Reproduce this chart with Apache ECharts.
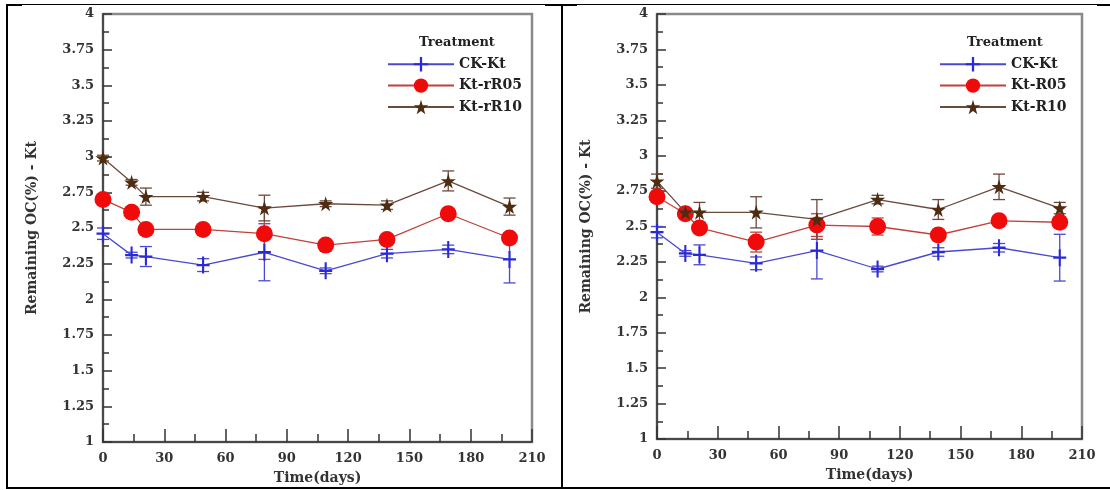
<!DOCTYPE html>
<html>
<head>
<meta charset="utf-8">
<script src="https://cdn.jsdelivr.net/npm/echarts@6/dist/echarts.min.js"></script>
<style>
  html, body { margin: 0; padding: 0; background: #fff; }
  #main { width: 1110px; height: 490px; }
</style>
</head>
<body>
<div id="main"></div>
<script>
// sampling days (same for both panels)
var days = [0, 14, 21, 49, 79, 109, 139, 169, 199];

// left panel
var ckKt = [2.46, 2.31, 2.30, 2.24, 2.33, 2.20, 2.32, 2.35, 2.28];
var ckKtErr = [0.04, 0.02, 0.07, 0.045, 0.2, 0.02, 0.03, 0.03, 0.165];
var ktrR05 = [2.70, 2.61, 2.49, 2.49, 2.46, 2.38, 2.42, 2.60, 2.43];
var ktrR05Err = [0.02, 0.02, 0.02, 0.02, 0.18, 0.02, 0.02, 0.03, 0.02];
var ktrR10 = [2.99, 2.82, 2.72, 2.72, 2.64, 2.67, 2.66, 2.83, 2.65];
var ktrR10Err = [0.02, 0.02, 0.06, 0.03, 0.09, 0.02, 0.03, 0.07, 0.06];

// right panel
var ktR05 = [2.71, 2.59, 2.49, 2.39, 2.51, 2.50, 2.44, 2.54, 2.53];
var ktR05Err = [0.02, 0.02, 0.03, 0.07, 0.08, 0.06, 0.04, 0.03, 0.03];
var ktR10 = [2.82, 2.60, 2.60, 2.60, 2.55, 2.69, 2.62, 2.78, 2.63];
var ktR10Err = [0.05, 0.02, 0.07, 0.11, 0.14, 0.03, 0.07, 0.09, 0.04];

var xTicks = [0, 210, 30];      // min, max, interval
var yTicks = [1, 4, 0.25];

var plusPath = 'path://M4.2,0 L5.8,0 L5.8,5.2 L10,5.2 L10,6.8 L5.8,6.8 L5.8,12 L4.2,12 L4.2,6.8 L0,6.8 L0,5.2 L4.2,5.2 Z';
var starPath = 'path://M50,0 L61,35 L98,35 L68,57 L79,91 L50,70 L21,91 L32,57 L2,35 L39,35 Z';

var fontFam = '"DejaVu Serif", "Liberation Serif", serif';

var styles = [
  { color: '#2a2ad8', line: '#4a4ad0', symbol: plusPath, size: [13, 17] },
  { color: '#f00a0a', line: '#c2413a', symbol: 'circle', size: 17 },
  { color: '#4e2c12', line: '#6a4a3c', symbol: starPath, size: 15 }
];

function pairs(xs, ys) {
  var out = [];
  for (var i = 0; i < xs.length; i++) out.push([xs[i], ys[i]]);
  return out;
}
function errs(xs, ys, es) {
  var out = [];
  for (var i = 0; i < xs.length; i++) out.push([xs[i], ys[i] - es[i], ys[i] + es[i]]);
  return out;
}

function errorRender(color) {
  return function (params, api) {
    var lo = api.coord([api.value(0), api.value(1)]);
    var hi = api.coord([api.value(0), api.value(2)]);
    var w = 6;
    var st = { stroke: color, lineWidth: 1.3 };
    return {
      type: 'group',
      children: [
        { type: 'line', shape: { x1: lo[0], y1: lo[1], x2: hi[0], y2: hi[1] }, style: st },
        { type: 'line', shape: { x1: lo[0] - w, y1: lo[1], x2: lo[0] + w, y2: lo[1] }, style: st },
        { type: 'line', shape: { x1: hi[0] - w, y1: hi[1], x2: hi[0] + w, y2: hi[1] }, style: st }
      ]
    };
  };
}

function makeAxes(idx) {
  var labelStyle = { fontFamily: fontFam, fontWeight: 'bold', fontSize: 13, color: '#333' };
  var nameStyle = { fontFamily: fontFam, fontWeight: 'bold', fontSize: 14, color: '#333' };
  var x = {
    type: 'value', gridIndex: idx, min: xTicks[0], max: xTicks[1], interval: xTicks[2],
    name: 'Time(days)', nameLocation: 'middle', nameGap: 29, nameTextStyle: nameStyle,
    axisLine: { lineStyle: { color: '#333', width: 1.5 } },
    axisTick: { inside: true, length: 13, lineStyle: { color: '#333', width: 1.5 } },
    minorTick: { show: true, splitNumber: 2, length: 8, lineStyle: { color: '#333', width: 1.5 } },
    axisLabel: Object.assign({ margin: 10 }, labelStyle),
    splitLine: { show: false }
  };
  var y = {
    type: 'value', gridIndex: idx, min: yTicks[0], max: yTicks[1], interval: yTicks[2],
    name: 'Remaining OC(%) - Kt', nameLocation: 'middle', nameGap: 64, nameTextStyle: nameStyle,
    axisLine: { lineStyle: { color: '#333', width: 1.5 } },
    axisTick: { inside: true, length: 9, lineStyle: { color: '#333', width: 1.5 } },
    minorTick: { show: true, splitNumber: 2, length: 6, lineStyle: { color: '#333', width: 1.5 } },
    axisLabel: Object.assign({ margin: 9 }, labelStyle),
    splitLine: { show: false }
  };
  return [x, y];
}

function makeSeries(idx, names, vals, errList) {
  var out = [];
  for (var k = 0; k < 3; k++) {
    var s = styles[k];
    out.push({
      type: 'custom', name: names[k] + ' err', xAxisIndex: idx, yAxisIndex: idx,
      renderItem: errorRender(s.line), data: errs(days, vals[k], errList[k]), z: 3,
      encode: { x: 0, y: [1, 2] }, silent: true
    });
  }
  for (var k = 0; k < 3; k++) {
    var s = styles[k];
    out.push({
      type: 'line', name: names[k], xAxisIndex: idx, yAxisIndex: idx,
      data: pairs(days, vals[k]), symbol: s.symbol, symbolSize: s.size,
      itemStyle: { color: s.color }, lineStyle: { color: s.line, width: 1.3 },
      z: 4 + k, animation: false
    });
  }
  return out;
}

var leftNames = ['CK-Kt', 'Kt-rR05', 'Kt-rR10'];
var rightNames = ['CK-Kt', 'Kt-R05', 'Kt-R10'];

var axL = makeAxes(0), axR = makeAxes(1);

function legendOf(names, left) {
  return {
    orient: 'vertical', left: left, top: 57, data: names, padding: 0,
    itemWidth: 66, itemHeight: 18, itemGap: 7, selectedMode: false,
    textStyle: { fontFamily: fontFam, fontWeight: 'bold', fontSize: 14, color: '#222' }
  };
}

var option = {
  animation: false,
  grid: [
    { left: 103, top: 14, width: 429, height: 428, show: true, borderColor: '#8a8a8a', borderWidth: 2.5 },
    { left: 657, top: 14, width: 425, height: 425, show: true, borderColor: '#8a8a8a', borderWidth: 2.5 }
  ],
  xAxis: [axL[0], axR[0]],
  yAxis: [axL[1], axR[1]],
  legend: [legendOf(leftNames, 387), legendOf(rightNames, 939)],
  series: makeSeries(0, leftNames, [ckKt, ktrR05, ktrR10], [ckKtErr, ktrR05Err, ktrR10Err])
    .concat(makeSeries(1, rightNames, [ckKt, ktR05, ktR10], [ckKtErr, ktR05Err, ktR10Err])),
  graphic: [
    // legend titles
    { type: 'text', x: 457, y: 43, style: { text: 'Treatment', font: 'bold 13px ' + fontFam, fill: '#222', align: 'center', verticalAlign: 'middle' } },
    { type: 'text', x: 1005, y: 43, style: { text: 'Treatment', font: 'bold 13px ' + fontFam, fill: '#222', align: 'center', verticalAlign: 'middle' } },
    // table borders
    { type: 'line', shape: { x1: 22, y1: 4.5, x2: 1110, y2: 4.5 }, style: { stroke: '#000', lineWidth: 1 } },
    { type: 'line', shape: { x1: 7, y1: 5, x2: 22, y2: 5 }, style: { stroke: '#000', lineWidth: 2 } },
    { type: 'line', shape: { x1: 545, y1: 5, x2: 577, y2: 5 }, style: { stroke: '#000', lineWidth: 2 } },
    { type: 'line', shape: { x1: 1097, y1: 5, x2: 1110, y2: 5 }, style: { stroke: '#000', lineWidth: 2 } },
    { type: 'line', shape: { x1: 7, y1: 4, x2: 7, y2: 489 }, style: { stroke: '#000', lineWidth: 2 } },
    { type: 'line', shape: { x1: 562, y1: 4, x2: 562, y2: 489 }, style: { stroke: '#000', lineWidth: 2 } },
    { type: 'line', shape: { x1: 6, y1: 488, x2: 1110, y2: 488 }, style: { stroke: '#000', lineWidth: 2 } }
  ]
};

var chart = echarts.init(document.getElementById('main'));
chart.setOption(option);
</script>
</body>
</html>
